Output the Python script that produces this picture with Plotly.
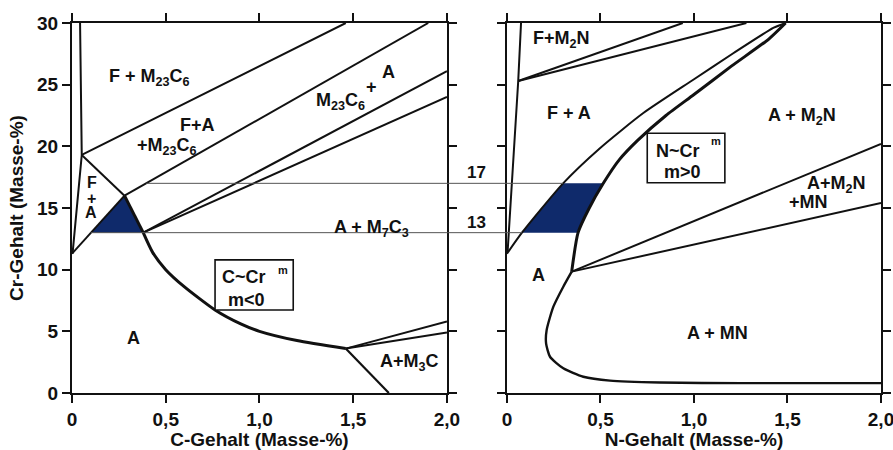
import numpy as np
import plotly.graph_objects as go

# ---------------- Fe-Cr-C section (C in mass-%, Cr in mass-%) ----------------
c_ferr_c = [0.043, 0.052, 0.003]
c_ferr_cr = [30.0, 19.3, 11.3]
c_fm23_c = [0.052, 1.46]
c_fm23_cr = [19.3, 30.0]
c_fa_m23_c = [0.052, 0.28]
c_fa_m23_cr = [19.3, 16.0]
c_a_fa_c = [0.0, 0.1, 0.28]
c_a_fa_cr = [11.3, 13.0, 16.0]
c_m23_top_c = [0.28, 1.9]
c_m23_top_cr = [16.0, 30.0]
c_solv_c = [0.28, 0.38, 0.43, 0.5, 0.6, 0.763, 0.9, 1.0, 1.2, 1.46]
c_solv_cr = [16.0, 13.0, 11.4, 10.0, 8.6, 6.73, 5.6, 5.0, 4.25, 3.6]
c_m3c_c = [1.46, 1.69]
c_m3c_cr = [3.6, 0.0]
c_m3c_up_c = [1.46, 2.0]
c_m3c_up_cr = [3.6, 5.8]
c_m3c_lo_c = [1.46, 2.0]
c_m3c_lo_cr = [3.6, 4.9]
c_m7_up_c = [0.38, 2.0]
c_m7_up_cr = [13.0, 26.1]
c_m7_lo_c = [0.38, 2.0]
c_m7_lo_cr = [13.0, 24.0]

# ---------------- Fe-Cr-N section (N in mass-%, Cr in mass-%) ----------------
n_ferr_n = [0.075, 0.06, 0.003]
n_ferr_cr = [30.0, 25.3, 11.4]
n_m2n_up_n = [0.06, 0.94]
n_m2n_up_cr = [25.3, 30.0]
n_m2n_lo_n = [0.06, 1.28]
n_m2n_lo_cr = [25.3, 30.0]
n_a_fa_n = [0.0, 0.08, 0.30, 0.497, 0.729, 0.996, 1.21, 1.424, 1.49]
n_a_fa_cr = [11.3, 13.0, 17.0, 19.85, 22.7, 25.4, 27.55, 29.6, 30.0]
n_a_m2n_n = [0.346, 0.38, 0.44, 0.515, 0.60, 0.70, 0.85, 1.0, 1.2, 1.40, 1.49]
n_a_m2n_cr = [9.84, 13.0, 15.0, 17.0, 18.9, 20.5, 22.5, 24.2, 26.5, 28.7, 30.0]
n_mn_up_n = [0.346, 2.0]
n_mn_up_cr = [9.84, 20.2]
n_mn_lo_n = [0.346, 2.0]
n_mn_lo_cr = [9.84, 15.4]
n_a_mn_n = [0.346, 0.301, 0.248, 0.212, 0.209, 0.23, 0.301, 0.408, 0.551, 0.818, 1.25, 2.0]
n_a_mn_cr = [9.84, 8.62, 7.0, 5.1, 4.03, 2.94, 2.0, 1.32, 1.0, 0.85, 0.8, 0.8]

# Cr window of interest and axis ticks
cr_window = [13.0, 17.0]
x_ticks = [0, 0.5, 1.0, 1.5, 2.0]
x_ticktext = ["0", "0,5", "1,0", "1,5", "2,0"]
y_ticks = [0, 5, 10, 15, 20, 25, 30]

FONT = "Liberation Sans, Arial, Helvetica, sans-serif"
INK = "#111111"
SHADE = "#0f2a6b"

dom_left = [0.0, 0.4635]
dom_right = [0.5377, 1.0]
x_range = [0.0, 2.0]

fig = go.Figure()


def band(xs, ys, lo, hi):
    xs = np.asarray(xs)
    ys = np.asarray(ys)
    m = (ys >= lo) & (ys <= hi)
    return xs[m], ys[m]


# shaded composition windows
lx1, ly1 = band(c_a_fa_c, c_a_fa_cr, cr_window[0], cr_window[1])
lx2, ly2 = band(c_solv_c, c_solv_cr, cr_window[0], cr_window[1])
fig.add_trace(go.Scatter(x=np.r_[lx1, lx2], y=np.r_[ly1, ly2], fill="toself",
                         fillcolor=SHADE, line=dict(width=0), mode="lines",
                         xaxis="x", yaxis="y", hoverinfo="skip", showlegend=False))
rx1, ry1 = band(n_a_fa_n, n_a_fa_cr, cr_window[0], cr_window[1])
rx2, ry2 = band(n_a_m2n_n, n_a_m2n_cr, cr_window[0], cr_window[1])
fig.add_trace(go.Scatter(x=np.r_[rx1, rx2[::-1]], y=np.r_[ry1, ry2[::-1]], fill="toself",
                         fillcolor=SHADE, line=dict(width=0), mode="lines",
                         xaxis="x2", yaxis="y2", hoverinfo="skip", showlegend=False))


def boundary(xs, ys, axis, width=2.0, smooth=False):
    fig.add_trace(go.Scatter(
        x=xs, y=ys, mode="lines",
        line=dict(color=INK, width=width, shape="spline" if smooth else "linear",
                  smoothing=0.6),
        xaxis="x" if axis == 1 else "x2", yaxis="y" if axis == 1 else "y2",
        hoverinfo="skip", showlegend=False))


# left diagram
boundary(c_ferr_c, c_ferr_cr, 1)
boundary(c_fm23_c, c_fm23_cr, 1)
boundary(c_fa_m23_c, c_fa_m23_cr, 1)
boundary(c_a_fa_c, c_a_fa_cr, 1)
boundary(c_m23_top_c, c_m23_top_cr, 1)
# solvus: straight edge of the window above 13 % Cr, curved below it
sx, sy = np.asarray(c_solv_c), np.asarray(c_solv_cr)
boundary(sx[sy >= cr_window[0]], sy[sy >= cr_window[0]], 1, width=3.0)
boundary(sx[sy <= cr_window[0]], sy[sy <= cr_window[0]], 1, width=3.0, smooth=True)
boundary(c_m3c_c, c_m3c_cr, 1, width=2.2)
boundary(c_m3c_up_c, c_m3c_up_cr, 1)
boundary(c_m3c_lo_c, c_m3c_lo_cr, 1)
boundary(c_m7_up_c, c_m7_up_cr, 1)
boundary(c_m7_lo_c, c_m7_lo_cr, 1)

# right diagram
boundary(n_ferr_n, n_ferr_cr, 2)
boundary(n_m2n_up_n, n_m2n_up_cr, 2)
boundary(n_m2n_lo_n, n_m2n_lo_cr, 2)
boundary(n_a_fa_n, n_a_fa_cr, 2, width=2.0, smooth=True)
boundary(n_a_m2n_n, n_a_m2n_cr, 2, width=3.0, smooth=True)
boundary(n_mn_up_n, n_mn_up_cr, 2)
boundary(n_mn_lo_n, n_mn_lo_cr, 2)
boundary(n_a_mn_n, n_a_mn_cr, 2, width=2.4, smooth=True)


def to_paper(x, dom):
    return dom[0] + (x - x_range[0]) / (x_range[1] - x_range[0]) * (dom[1] - dom[0])


# horizontal guide lines linking both diagrams at the Cr window limits
starts = {cr_window[1]: np.interp(cr_window[1], c_m23_top_cr, c_m23_top_c),
          cr_window[0]: np.interp(cr_window[0], c_a_fa_cr, c_a_fa_c)}
shapes = []
annotations = []
for level in cr_window:
    x_end = np.interp(level, n_a_fa_cr, n_a_fa_n)
    shapes.append(dict(type="line", xref="paper", yref="y",
                       x0=to_paper(starts[level], dom_left), x1=to_paper(x_end, dom_right),
                       y0=level, y1=level, line=dict(color="#555555", width=1)))
    annotations.append(dict(text=f"{level:g}", xref="paper", yref="y",
                            x=(dom_left[1] + dom_right[0]) / 2, y=level,
                            yanchor="bottom", yshift=-1, showarrow=False,
                            font=dict(size=17, color=INK, family=FONT, weight="bold")))

# exponent boxes
shapes.append(dict(type="rect", xref="x", yref="y", x0=0.763, x1=1.18, y0=6.73, y1=10.79,
                   line=dict(color=INK, width=1.6), fillcolor="white", layer="above"))
shapes.append(dict(type="rect", xref="x2", yref="y2", x0=0.75, x1=1.165, y0=17.05, y1=21.06,
                   line=dict(color=INK, width=1.6), fillcolor="white", layer="above"))


def label(text, x, y, axis=1, size=18):
    annotations.append(dict(text=text, x=x, y=y, xref="x" if axis == 1 else "x2",
                            yref="y" if axis == 1 else "y2", showarrow=False, borderpad=0,
                            font=dict(size=size, color=INK, family=FONT, weight="bold")))


label("F + M<sub>23</sub>C<sub>6</sub>", 0.416, 25.6)
label("F+A", 0.667, 21.7)
label("+M<sub>23</sub>C<sub>6</sub>", 0.507, 19.95)
label("M<sub>23</sub>C<sub>6</sub>", 1.43, 23.6)
label("+", 1.598, 24.8)
label("A", 1.687, 26.06)
label("F", 0.105, 17.05, size=16)
label("+", 0.102, 15.8, size=16)
label("A", 0.1, 14.6, size=16)
label("A + M<sub>7</sub>C<sub>3</sub>", 1.6, 13.3)
label("A", 0.327, 4.45)
label("A+M<sub>3</sub>C", 1.80, 2.45)
label("C~Cr", 0.915, 9.43)
label("m", 1.124, 10.0, size=11)
label("m&lt;0", 0.93, 7.54)

label("F+M<sub>2</sub>N", 0.292, 28.7, 2)
label("F + A", 0.33, 22.7, 2)
label("A + M<sub>2</sub>N", 1.58, 22.4, 2)
label("N~Cr", 0.914, 19.6, 2)
label("m", 1.12, 20.4, 2, size=11)
label("m&gt;0", 0.938, 17.9, 2)
label("A+M<sub>2</sub>N", 1.763, 16.9, 2)
label("+MN", 1.61, 15.5, 2)
label("A", 0.166, 9.57, 2)
label("A + MN", 1.126, 4.87, 2)

tick_font = dict(size=19, color=INK, family=FONT, weight="bold")
title_font = dict(size=19, color=INK, family=FONT, weight="bold")
axis_common = dict(range=x_range, showline=True, linecolor=INK, linewidth=2,
                   mirror="allticks", ticks="outside", ticklen=8, tickwidth=2,
                   tickcolor=INK, showgrid=False, zeroline=False,
                   ticklabeloverflow="allow", tickfont=tick_font)
y_common = dict(axis_common, range=[0, 30], tickvals=y_ticks)

fig.update_layout(
    width=893, height=450, template="none",
    paper_bgcolor="white", plot_bgcolor="white",
    margin=dict(l=72, r=12, t=23, b=57),
    xaxis=dict(axis_common, domain=dom_left, anchor="y", tickvals=x_ticks, ticktext=x_ticktext,
               title=dict(text="C-Gehalt (Masse-%)", standoff=6, font=title_font)),
    xaxis2=dict(axis_common, domain=dom_right, anchor="y2", tickvals=x_ticks, ticktext=x_ticktext,
                title=dict(text="N-Gehalt (Masse-%)", standoff=6, font=title_font)),
    yaxis=dict(y_common, anchor="x",
               title=dict(text="Cr-Gehalt (Masse-%)", standoff=8, font=title_font)),
    yaxis2=dict(y_common, anchor="x2", showticklabels=False),
    shapes=shapes, annotations=annotations,
)

fig.write_html("out.html")
